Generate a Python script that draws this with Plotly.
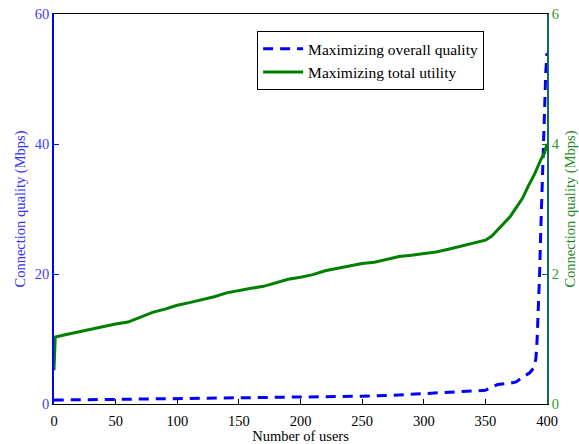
import plotly.graph_objects as go

# Connection quality per user count, two optimisation strategies
users_overall = [0, 1, 25, 50, 75, 100, 125, 150, 175, 200, 225, 250, 270, 285, 300, 325, 345, 350, 355, 360, 370, 375, 380, 386, 389, 391, 392, 393, 394, 395, 396, 397, 398, 399, 400]
quality_overall = [0.5, 0.62, 0.65, 0.7, 0.78, 0.85, 0.9, 0.93, 0.98, 1.02, 1.1, 1.2, 1.3, 1.45, 1.65, 1.85, 2.0, 2.1, 2.6, 3.0, 3.2, 3.4, 4.1, 4.8, 5.5, 7.0, 10.0, 14.0, 20.0, 27.0, 34.0, 40.0, 46.0, 51.0, 54.0]

users_utility = [0, 1, 10, 20, 30, 40, 50, 60, 70, 80, 90, 100, 110, 120, 130, 140, 150, 160, 170, 180, 190, 200, 210, 220, 230, 240, 250, 260, 270, 280, 290, 300, 310, 320, 330, 340, 350, 355, 360, 365, 370, 375, 380, 385, 390, 395, 398, 400]
quality_utility = [0.52, 1.03, 1.07, 1.11, 1.15, 1.2, 1.23, 1.26, 1.34, 1.41, 1.46, 1.52, 1.56, 1.6, 1.65, 1.71, 1.75, 1.78, 1.81, 1.86, 1.92, 1.95, 1.99, 2.05, 2.09, 2.13, 2.16, 2.18, 2.22, 2.27, 2.29, 2.31, 2.34, 2.38, 2.43, 2.47, 2.52, 2.58, 2.68, 2.78, 2.88, 3.02, 3.16, 3.36, 3.54, 3.76, 3.86, 4.0]

x_ticks = [0, 50, 100, 150, 200, 250, 300, 350, 400]
left_ticks = [0, 20, 40, 60]
right_ticks = [0, 2, 4, 6]

BLUE = "#0000ff"
GREEN = "#008000"
FONT = "Liberation Serif"
AX_SIZE = 14.5

fig = go.Figure()
fig.add_trace(go.Scatter(
    x=users_overall, y=quality_overall, mode="lines",
    name="Maximizing overall quality",
    line=dict(color=BLUE, width=3, dash="10px,7px"),
    yaxis="y",
))
fig.add_trace(go.Scatter(
    x=users_utility, y=quality_utility, mode="lines",
    name="Maximizing total utility",
    line=dict(color=GREEN, width=3),
    yaxis="y2",
))

fig.update_layout(
    width=579, height=444,
    margin=dict(l=54, r=32, t=14, b=40),
    paper_bgcolor="white", plot_bgcolor="white",
    font=dict(family=FONT, size=AX_SIZE, color="black"),
    showlegend=True,
    legend=dict(
        x=0.412, y=0.956, xanchor="left", yanchor="top",
        bordercolor="black", borderwidth=1, bgcolor="white",
        font=dict(family=FONT, size=15.5, color="black"),
        tracegroupgap=0, itemwidth=40,
    ),
    xaxis=dict(
        range=[0, 400], tickvals=x_ticks, ticktext=[str(v) for v in x_ticks],
        ticks="inside", ticklen=5, tickcolor="black",
        showline=True, linecolor="black", linewidth=1, mirror=True,
        showgrid=False, zeroline=False, automargin=False,
        ticklabelstandoff=4,
        title=dict(text="Number of users", font=dict(family=FONT, size=AX_SIZE), standoff=5),
        tickfont=dict(family=FONT, size=AX_SIZE, color="black"),
    ),
    yaxis=dict(
        range=[0, 60], tickvals=left_ticks, ticktext=[str(v) for v in left_ticks],
        ticks="inside", ticklen=5, tickcolor=BLUE,
        showline=True, linecolor=BLUE, linewidth=1.5,
        showgrid=False, zeroline=False, automargin=False,
        tickfont=dict(family=FONT, size=AX_SIZE, color="#4040ff"),
        title=dict(text="Connection quality (Mbps)", font=dict(family=FONT, size=AX_SIZE, color="#3030ff"), standoff=6),
    ),
    yaxis2=dict(
        range=[0, 6], tickvals=right_ticks, ticktext=[str(v) for v in right_ticks],
        overlaying="y", side="right",
        ticks="inside", ticklen=5, tickcolor=GREEN,
        showline=True, linecolor="#13695a", linewidth=1.5,
        showgrid=False, zeroline=False, automargin=False,
        tickfont=dict(family=FONT, size=AX_SIZE, color="#2e9a2e"),
        title=dict(text="Connection quality (Mbps)", font=dict(family=FONT, size=AX_SIZE, color="#1f8a1f"), standoff=9),
    ),
)

fig.write_html("out.html")
